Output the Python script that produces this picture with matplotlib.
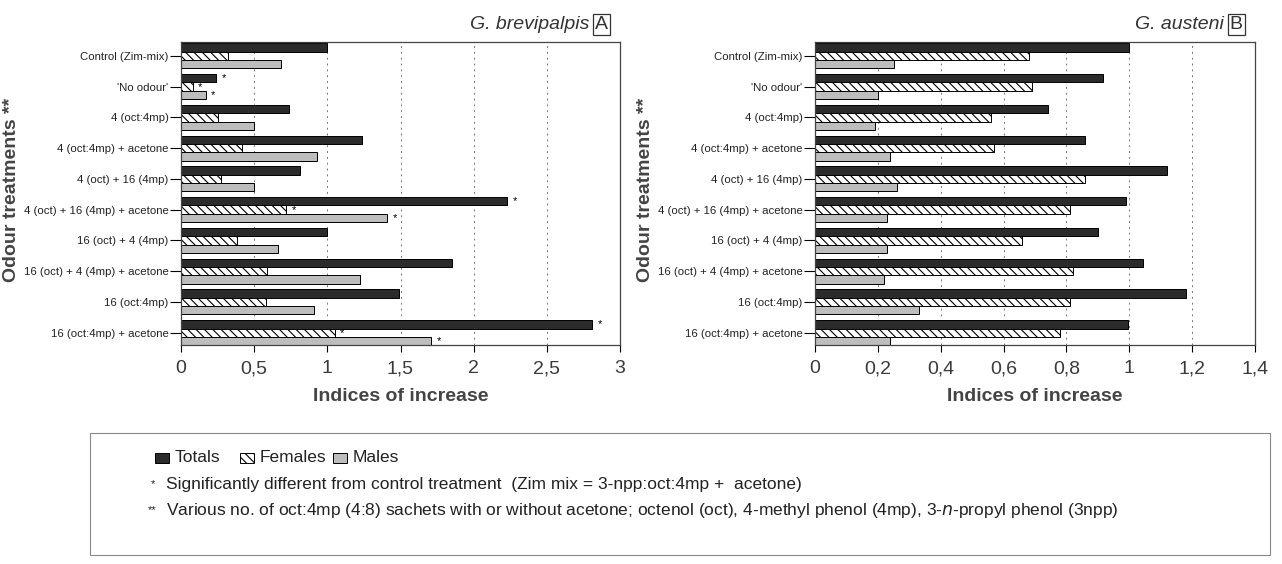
import matplotlib
matplotlib.use("Agg")
import matplotlib.pyplot as plt
import numpy as np
from matplotlib.patches import Rectangle

treatments = ["Control (Zim-mix)", "'No odour'", "4 (oct:4mp)", "4 (oct:4mp) + acetone",
              "4 (oct) + 16 (4mp)", "4 (oct) + 16 (4mp) + acetone", "16 (oct) + 4 (4mp)",
              "16 (oct) + 4 (4mp) + acetone", "16 (oct:4mp)", "16 (oct:4mp) + acetone"]

# G. brevipalpis
brev_totals = [1.00, 0.24, 0.74, 1.24, 0.81, 2.23, 1.00, 1.85, 1.49, 2.81]
brev_females = [0.32, 0.08, 0.25, 0.42, 0.27, 0.72, 0.38, 0.59, 0.58, 1.05]
brev_males = [0.68, 0.17, 0.50, 0.93, 0.50, 1.41, 0.66, 1.22, 0.91, 1.71]
brev_sig_totals = [1, 5, 9]
brev_sig_females = [1, 5, 9]
brev_sig_males = [1, 5, 9]

# G. austeni
aust_totals = [1.00, 0.915, 0.74, 0.86, 1.12, 0.99, 0.90, 1.045, 1.18, 0.995]
aust_females = [0.68, 0.69, 0.56, 0.57, 0.86, 0.81, 0.66, 0.82, 0.81, 0.78]
aust_males = [0.25, 0.20, 0.19, 0.24, 0.26, 0.23, 0.23, 0.22, 0.33, 0.24]

brev_ticks = [0, 0.5, 1, 1.5, 2, 2.5, 3]
aust_ticks = [0, 0.2, 0.4, 0.6, 0.8, 1.0, 1.2, 1.4]

plt.rcParams['font.family'] = ["Liberation Sans", "DejaVu Sans"]
plt.rcParams['hatch.linewidth'] = 0.8

TOT_C = "#2b2b2b"
MAL_C = "#bdbdbd"
TXT_C = "#222222"


def draw_panel(ax, totals, females, males, ticks, title, letter,
               sig_t=(), sig_f=(), sig_m=()):
    y = np.arange(len(treatments))
    h = 0.27
    ax.barh(y - h, totals, height=h, color=TOT_C, edgecolor="black", linewidth=0.7)
    ax.barh(y, females, height=h, color="white", edgecolor="black",
            hatch="\\\\\\\\", linewidth=0.7)
    ax.barh(y + h, males, height=h, color=MAL_C, edgecolor="black", linewidth=0.7)

    xmax = ticks[-1]
    off = xmax * 0.012
    for i in sig_t:
        ax.text(totals[i] + off, y[i] - h, "*", fontsize=8, va="center", ha="left")
    for i in sig_f:
        ax.text(females[i] + off, y[i], "*", fontsize=8, va="center", ha="left")
    for i in sig_m:
        ax.text(males[i] + off, y[i] + h, "*", fontsize=8, va="center", ha="left")

    ax.set_xlim(0, xmax)
    ax.set_ylim(len(treatments) - 0.6, -0.45)
    ax.set_xticks(ticks)
    ax.set_xticklabels([("%g" % t).replace(".", ",") for t in ticks],
                       fontsize=14, color="#3a3a3a")
    ax.set_yticks(y)
    ax.set_yticklabels(treatments, fontsize=8.2, color=TXT_C)
    ax.tick_params(axis="y", length=8, width=0.8, pad=1)
    ax.tick_params(axis="x", length=5, width=0.8, pad=6)
    for t in ticks[1:]:
        ax.axvline(t, color="#777777", lw=0.7, ls=(0, (2, 4)), zorder=0)
    for s in ax.spines.values():
        s.set_linewidth(0.9)
        s.set_color("#444444")
    ax.set_xlabel("Indices of increase", fontsize=14, fontweight="bold",
                  color="#444444", labelpad=8)
    ax.text(0.93, 1.03, title, transform=ax.transAxes, ha="right", va="bottom",
            fontsize=14, style="italic", color="#333333")
    ax.text(0.972, 1.03, letter, transform=ax.transAxes, ha="right", va="bottom",
            fontsize=14, color="#333333",
            bbox=dict(boxstyle="square,pad=0.1", fc="white", ec="#333333", lw=0.9))


fig = plt.figure(figsize=(12.82, 5.64), dpi=100)
ax1 = fig.add_axes([181 / 1282, 1 - 345 / 564, 439 / 1282, 303 / 564])
ax2 = fig.add_axes([815 / 1282, 1 - 345 / 564, 440 / 1282, 303 / 564])

draw_panel(ax1, brev_totals, brev_females, brev_males, brev_ticks,
           "G. brevipalpis", "A", brev_sig_totals, brev_sig_females, brev_sig_males)
draw_panel(ax2, aust_totals, aust_females, aust_males, aust_ticks,
           "G. austeni", "B")

for x in (12 / 1282, 645 / 1282):
    fig.text(x, 1 - 190 / 564, "Odour treatments **", rotation=90, ha="center",
             va="center", fontsize=14, fontweight="bold", color="#444444")


def fy(py):
    return 1 - py / 564


# legend / footnote box
fig.patches.append(Rectangle((90 / 1282, fy(555)), 1180 / 1282, 122 / 564,
                             transform=fig.transFigure, fill=False,
                             ec="#888888", lw=0.8))

sw, sh = 14 / 1282, 10 / 564
items = [(155, TOT_C, None, "Totals"), (240, "white", "\\\\\\\\", "Females"),
         (333, MAL_C, None, "Males")]
for px, fc, hatch, lab in items:
    fig.patches.append(Rectangle((px / 1282, fy(463)), sw, sh, transform=fig.transFigure,
                                 fc=fc, ec="black", lw=0.7, hatch=hatch))
    fig.text((px + 20) / 1282, fy(458), lab, fontsize=12.5,
             va="center", color=TXT_C)

fig.text(151 / 1282, fy(484), "*", fontsize=8, va="center", color=TXT_C)
fig.text(166 / 1282, fy(485),
         "Significantly different from control treatment  (Zim mix = 3-npp:oct:4mp +  acetone)",
         fontsize=12.5, va="center", color=TXT_C)
fig.text(148 / 1282, fy(510), "**", fontsize=8, va="center", color=TXT_C)
fig.text(166 / 1282, fy(511),
         "Various no. of oct:4mp (4:8) sachets with or without acetone; octenol (oct), "
         "4-methyl phenol (4mp), 3-$\\it{n}$-propyl phenol (3npp)",
         fontsize=12.5, va="center", color=TXT_C)

fig.savefig("out.png", dpi=100, facecolor="white")
